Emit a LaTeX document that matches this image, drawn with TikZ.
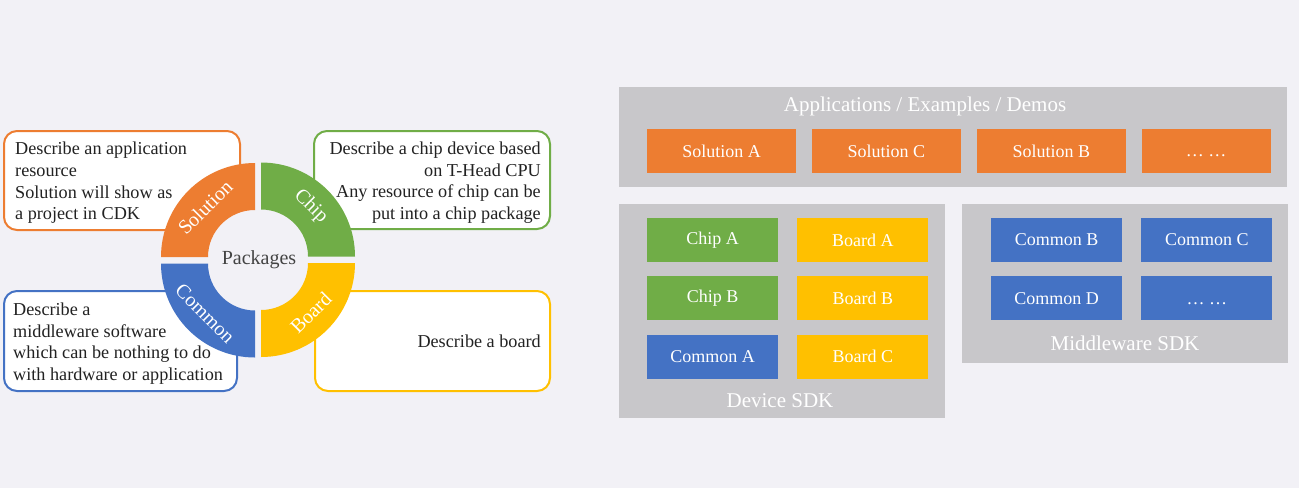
\documentclass[tikz,border=0pt]{standalone}
\usepackage{fontspec}
\setmainfont{Liberation Serif}
\usetikzlibrary{positioning}
\definecolor{solOrange}{HTML}{ED7D31}
\definecolor{chipGreen}{HTML}{70AD47}
\definecolor{commonBlue}{HTML}{4472C4}
\definecolor{boardYellow}{HTML}{FFC000}
\definecolor{panelGray}{HTML}{C8C7CA}
\definecolor{pageBg}{HTML}{F2F1F6}
\definecolor{textDark}{HTML}{222222}

\begin{document}
\begin{tikzpicture}[
    x=1pt, y=-1pt,
    descbox/.style={draw=#1, line width=2pt, rounded corners=13pt, fill=white},
    desctext/.style={inner sep=0pt, text=textDark, font=\fontsize{18.2}{21.7}\selectfont},
    panel/.style={fill=panelGray, inner sep=0pt},
    paneltitle/.style={text=white, font=\fontsize{21}{24}\selectfont},
    cell/.style={fill=#1, text=white, minimum width=131pt, minimum height=44pt, inner sep=0pt, font=\fontsize{18}{20}\selectfont},
    ringlabel/.style={text=white, font=\fontsize{20}{22}\selectfont},
]
    \fill[pageBg] (0,0) rectangle (1299,488);
    \useasboundingbox (0,0) rectangle (1299,488);

    % package descriptions
    \node[descbox=solOrange, minimum width=236pt, minimum height=99pt] (solBox) at (122,180.5) {};
    \node[descbox=chipGreen, minimum width=236pt, minimum height=98pt] (chipBox) at (432,180) {};
    \node[descbox=commonBlue, minimum width=233pt, minimum height=100pt] (commonBox) at (120.5,341) {};
    \node[descbox=boardYellow, minimum width=235pt, minimum height=100pt] (boardBox) at (432.5,341) {};

    \node[desctext, align=left, anchor=west, yshift=-2.5pt] (solText) at ([xshift=12pt]solBox.west) {Describe an application\\resource\\Solution will show as\\a project in CDK};
    \node[desctext, align=right, anchor=east, yshift=-2.5pt] (chipText) at ([xshift=-10pt]chipBox.east) {Describe a chip device based\\on T-Head CPU\\Any resource of chip can be\\put into a chip package};
    \node[desctext, align=left, anchor=west, yshift=-2.5pt] (commonText) at ([xshift=10pt]commonBox.west) {Describe a\\middleware software\\which can be nothing to do\\with hardware or application};
    \node[desctext, anchor=east] (boardText) at ([xshift=-10pt]boardBox.east) {Describe a board};

    % package ring
    \begin{scope}[shift={(258,260)}, y=1pt]
        \fill[pageBg] (0,0) circle[radius=95];
        \foreach \ang/\dx/\dy/\col/\lbl/\rot in {90/-3/3/solOrange/Solution/45, 0/3/3.5/chipGreen/Chip/-45, 180/-3/-3.5/commonBlue/Common/-45, 270/3/-3/boardYellow/Board/45}{
            \begin{scope}[shift={(\dx,\dy)}]
                \fill[\col] (\ang:47) -- (\ang:94) arc[start angle=\ang, delta angle=90, radius=94] -- ({\ang+90}:47) arc[start angle=\ang+90, delta angle=-90, radius=47] -- cycle;
                \node[ringlabel, rotate=\rot] (ring\lbl) at ({\ang+45}:70.5) {\lbl};
            \end{scope}
        }
        \node[text=textDark!85, font=\fontsize{20}{22}\selectfont] (packages) at (1,0) {Packages};
    \end{scope}

    % applications
    \node[panel, minimum width=668pt, minimum height=100pt] (appsPanel) at (953,137) {};
    \node[paneltitle] (appsTitle) at (925,106.5) {Applications / Examples / Demos};
    \node[cell=solOrange, minimum width=149pt] (solA) at (721.5,151) {Solution A};
    \node[cell=solOrange, minimum width=149pt, right=15.5pt of solA] (solC) {Solution C};
    \node[cell=solOrange, minimum width=149pt, right=15.5pt of solC] (solB) {Solution B};
    \node[cell=solOrange, minimum width=129pt, right=15.5pt of solB] (solMore) {\vphantom{A}… …};

    % device sdk
    \node[panel, minimum width=326pt, minimum height=214pt] (devicePanel) at (782,311) {};
    \node[cell=chipGreen] (chipA) at (712.5,240) {Chip A};
    \node[cell=boardYellow, right=19pt of chipA] (boardA) {Board A};
    \node[cell=chipGreen, below=14pt of chipA] (chipB) {Chip B};
    \node[cell=boardYellow, right=19pt of chipB] (boardB) {Board B};
    \node[cell=commonBlue, below=14pt of chipB] (commonA) {Common A};
    \node[cell=boardYellow, right=19pt of commonA] (boardC) {Board C};
    \node[paneltitle] (deviceTitle) at (780,400.5) {Device SDK};

    % middleware sdk
    \node[panel, minimum width=326pt, minimum height=159pt] (mwPanel) at (1125,283.5) {};
    \node[cell=commonBlue] (commonB) at (1056.5,240) {Common B};
    \node[cell=commonBlue, right=19pt of commonB] (commonC) {Common C};
    \node[cell=commonBlue, below=14pt of commonB] (commonD) {Common D};
    \node[cell=commonBlue, right=19pt of commonD] (mwMore) {\vphantom{A}… …};
    \node[paneltitle] (mwTitle) at (1125,343) {Middleware SDK};
\end{tikzpicture}
\end{document}
